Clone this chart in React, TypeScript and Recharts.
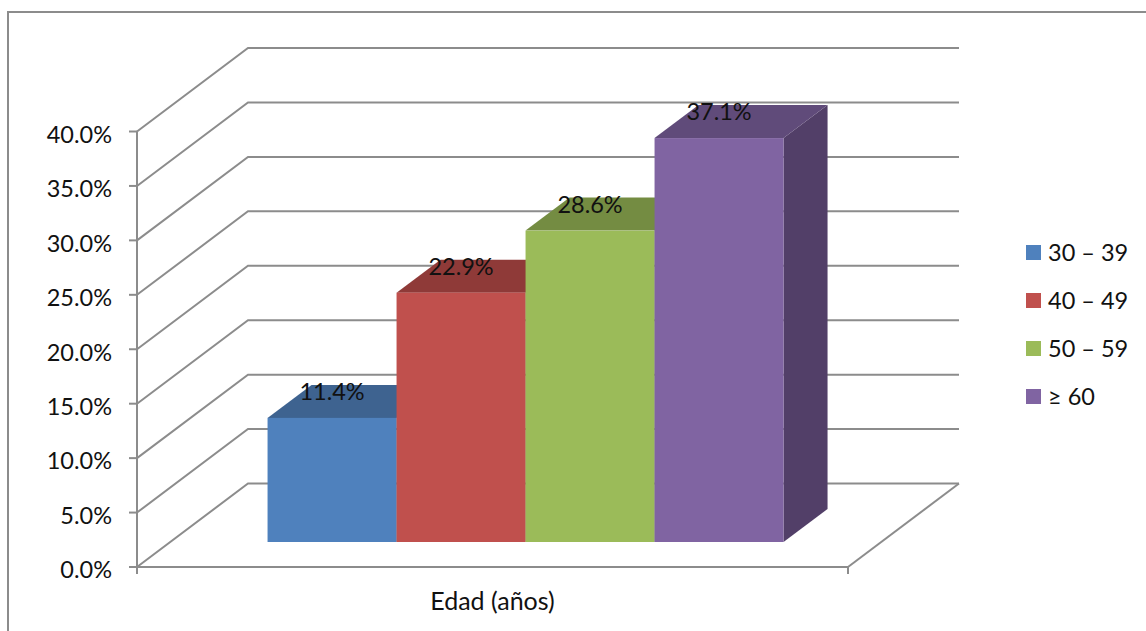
import { Bar, BarChart, CartesianGrid, LabelList, Legend, XAxis, YAxis } from "recharts";

const category = "Edad (años)";
const ageGroups = ["30 – 39", "40 – 49", "50 – 59", "≥ 60"];
const shares = [11.4, 22.9, 28.6, 37.1];
const yTicks = [0, 5, 10, 15, 20, 25, 30, 35, 40];

const frontColors = ["#4F81BD", "#C0504D", "#9BBB59", "#8064A2"];
const topColors = ["#3E6390", "#8F3A38", "#748C42", "#604B7A"];
const sideColors = ["#345479", "#7A3230", "#637839", "#523F68"];

const AXIS_COLOR = "#8C8C8C";
const FONT = "Lato, sans-serif";
const FONT_SIZE = 23.5;

// the back wall sits this far behind the axis plane
const WALL_DX = 111;
const WALL_DY = 83.5;
// bars stand a little way into the floor, and have their own depth
const BAR_DX = 33.5;
const BAR_DY = 25;
const DEPTH_DX = 44;
const DEPTH_DY = 33;

const chartData = [
  Object.fromEntries([["name", category], ...ageGroups.map((g, i) => [g, shares[i]])]),
];

function WallLine({ x1, x2, y1, index }: any) {
  const backY = y1 - WALL_DY;
  const isFloor = Math.abs(y1 - 567) < 1;
  return (
    <g key={index} fill="none" stroke={AXIS_COLOR} strokeWidth={2}>
      <polyline points={`${x1},${y1} ${x1 + WALL_DX},${backY} ${x2 + WALL_DX},${backY}`} />
      {isFloor && (
        <>
          <line x1={x2} y1={y1} x2={x2 + WALL_DX} y2={backY} />
          <line x1={x1} y1={y1} x2={x1} y2={y1 + 7} />
          <line x1={x2} y1={y1} x2={x2} y2={y1 + 7} />
        </>
      )}
    </g>
  );
}

function box(i: number) {
  return function Box({ x, y, width, height }: any) {
    const left = x + BAR_DX;
    const right = left + width;
    const top = y - BAR_DY;
    const bottom = top + height;
    const topFace = `${left},${top} ${left + DEPTH_DX},${top - DEPTH_DY} ${right + DEPTH_DX},${top - DEPTH_DY} ${right},${top}`;
    const sideFace = `${right},${top} ${right + DEPTH_DX},${top - DEPTH_DY} ${right + DEPTH_DX},${bottom - DEPTH_DY} ${right},${bottom}`;
    return (
      <g>
        <polygon points={sideFace} fill={sideColors[i]} />
        <polygon points={topFace} fill={topColors[i]} />
        <rect x={left} y={top} width={width} height={height} fill={frontColors[i]} />
      </g>
    );
  };
}

function BarValue({ x, y, width, value }: any) {
  return (
    <text
      x={x + width / 2 + BAR_DX}
      y={y - BAR_DY - 27}
      textAnchor="middle"
      dominantBaseline="central"
      fontFamily={FONT}
      fontSize={FONT_SIZE}
      fill="#111"
    >
      {`${value.toFixed(1)}%`}
    </text>
  );
}

function LegendBox({ payload }: any) {
  return (
    <div style={{ fontFamily: FONT, fontSize: FONT_SIZE, color: "#111" }}>
      {payload.map((item: any) => (
        <div key={item.value} style={{ display: "flex", alignItems: "center", height: 48 }}>
          <span style={{ width: 15, height: 15, background: item.color, marginRight: 7 }} />
          {item.value}
        </div>
      ))}
    </div>
  );
}

export default function App() {
  return (
    <div style={{ position: "absolute", left: 0, top: 0, width: 1146, height: 631, overflow: "hidden", background: "#fff" }}>
      <div
        style={{
          position: "absolute",
          left: 7,
          top: 11,
          right: 0,
          bottom: 0,
          borderLeft: `2px solid ${AXIS_COLOR}`,
          borderTop: `2px solid ${AXIS_COLOR}`,
        }}
      />
      <BarChart
        width={1146}
        height={631}
        data={chartData}
        margin={{ top: 131.5, right: 178, bottom: 24, left: 8 }}
        barGap={0}
        barCategoryGap="13.65%"
      >
        <CartesianGrid vertical={false} horizontal={WallLine} />
        <XAxis
          dataKey="name"
          height={40}
          tickLine={false}
          axisLine={{ stroke: AXIS_COLOR, strokeWidth: 2 }}
          tickMargin={19}
          tick={{ fontFamily: FONT, fontSize: 25, fill: "#111" }}
        />
        <YAxis
          width={129}
          domain={[0, 40]}
          ticks={yTicks}
          tickSize={8}
          tickMargin={17}
          tickFormatter={(v: number) => `${v.toFixed(1)}%`}
          axisLine={{ stroke: AXIS_COLOR, strokeWidth: 2 }}
          tickLine={{ stroke: AXIS_COLOR, strokeWidth: 2 }}
          tick={{ fontFamily: FONT, fontSize: FONT_SIZE, fill: "#111", dy: 3 }}
        />
        <Legend
          layout="vertical"
          align="right"
          verticalAlign="top"
          width={120}
          content={LegendBox}
          wrapperStyle={{ left: 1026, top: 228 }}
        />
        {ageGroups.map((g, i) => (
          <Bar key={g} dataKey={g} fill={frontColors[i]} shape={box(i)} isAnimationActive={false}>
            <LabelList dataKey={g} content={BarValue} />
          </Bar>
        ))}
      </BarChart>
    </div>
  );
}
